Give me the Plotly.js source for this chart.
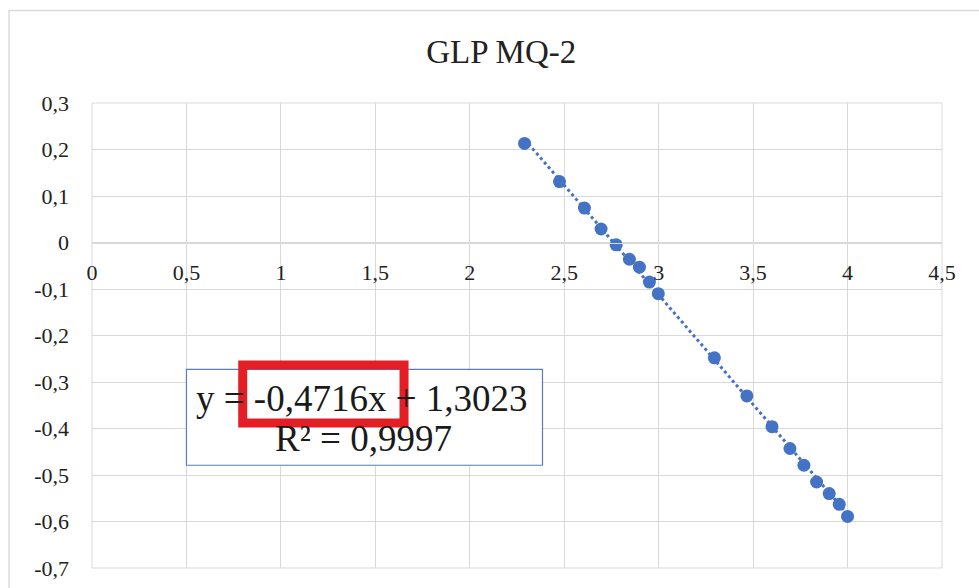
<!DOCTYPE html>
<html>
<head>
<meta charset="utf-8">
<script src="https://cdn.plot.ly/plotly-3.0.1.min.js"></script>
<style>
  html, body { margin: 0; padding: 0; background: #ffffff; }
  #chart { width: 979px; height: 588px; }
</style>
</head>
<body>
<div id="chart"></div>
<script>
// ---- data ----
const xValues = [2.290, 2.475, 2.607, 2.695, 2.775, 2.845, 2.898, 2.951, 2.998,
                 3.295, 3.467, 3.600, 3.695, 3.769, 3.836, 3.903, 3.956, 4.000];
const yValues = [0.213, 0.131, 0.074, 0.029, -0.005, -0.036, -0.053, -0.085, -0.110,
                 -0.248, -0.330, -0.396, -0.443, -0.479, -0.515, -0.540, -0.563, -0.589];
const trendX = [2.290, 4.000];
const trendY = [0.222, -0.584];
const xTickVals = [0, 0.5, 1, 1.5, 2, 2.5, 3, 3.5, 4, 4.5];
const xTickText = ['0', '0,5', '1', '1,5', '2', '2,5', '3', '3,5', '4', '4,5'];
const yTickVals = [0.3, 0.2, 0.1, 0, -0.1, -0.2, -0.3, -0.4, -0.5, -0.6, -0.7];
const yTickText = ['0,3', '0,2', '0,1', '0', '-0,1', '-0,2', '-0,3', '-0,4', '-0,5', '-0,6', '-0,7'];
const chartTitle = 'GLP MQ-2';
const equationText = 'y = -0,4716x + 1,3023';
const r2Text = 'R² = 0,9997';

const serif = 'Liberation Serif';
const blue = '#4472C4';
const grid = '#d9d9d9';

const traces = [
  {
    x: trendX, y: trendY, type: 'scatter', mode: 'lines',
    line: { color: blue, width: 3, dash: 'dot' },
    hoverinfo: 'skip', showlegend: false
  },
  {
    x: xValues, y: yValues, type: 'scatter', mode: 'markers',
    marker: { color: blue, size: 13 },
    showlegend: false
  }
];

const layout = {
  width: 979, height: 588,
  paper_bgcolor: '#ffffff', plot_bgcolor: '#ffffff',
  font: { family: serif },
  margin: { l: 92, r: 37, t: 103, b: 20, pad: 0 },
  showlegend: false,
  title: {
    text: chartTitle,
    font: { family: serif, size: 33, color: '#222222' },
    xref: 'container', yref: 'container',
    x: 0.512, xanchor: 'center', y: 0.912, yanchor: 'middle'
  },
  xaxis: {
    range: [0, 4.5], tickvals: xTickVals, ticktext: xTickText,
    showgrid: true, gridcolor: grid, gridwidth: 1,
    zeroline: false, showline: true, linecolor: grid, linewidth: 1,
    anchor: 'free', position: 0.7,
    ticks: '', ticklabelstandoff: 10,
    tickfont: { family: serif, size: 22, color: '#222222' }
  },
  yaxis: {
    range: [-0.7, 0.3], tickvals: yTickVals, ticktext: yTickText,
    showgrid: true, gridcolor: grid, gridwidth: 1,
    zeroline: false, showline: false,
    ticks: '', ticklabelstandoff: 22,
    tickfont: { family: serif, size: 22, color: '#222222' }
  },
  shapes: [
    // chart outer border
    { type: 'rect', xref: 'paper', yref: 'paper', x0: -0.0976, x1: 1.2, y0: -0.2, y1: 1.199,
      line: { color: '#d9d9d9', width: 1.5 }, fillcolor: 'rgba(0,0,0,0)', layer: 'below' },
    // plot area frame
    { type: 'rect', xref: 'paper', yref: 'paper', x0: 0, x1: 1, y0: 0, y1: 1,
      line: { color: grid, width: 1 }, fillcolor: 'rgba(0,0,0,0)', layer: 'below' },
    // equation box
    { type: 'rect', xref: 'x', yref: 'y', x0: 0.50, x1: 2.385, y0: -0.479, y1: -0.273,
      line: { color: '#5a7db8', width: 1.2 }, fillcolor: '#ffffff', layer: 'above' },
    // red highlight
    { type: 'rect', xref: 'x', yref: 'y', x0: 0.798, x1: 1.652, y0: -0.388, y1: -0.2635,
      line: { color: '#e31e24', width: 9 }, fillcolor: 'rgba(0,0,0,0)', layer: 'above' }
  ],
  annotations: [
    { x: 1.430, y: -0.335, xref: 'x', yref: 'y', text: equationText, showarrow: false,
      xanchor: 'center', yanchor: 'middle',
      font: { family: serif, size: 37, color: '#1a1a1a' } },
    { x: 1.436, y: -0.421, xref: 'x', yref: 'y', text: r2Text, showarrow: false,
      xanchor: 'center', yanchor: 'middle',
      font: { family: serif, size: 37, color: '#1a1a1a' } }
  ]
};

Plotly.newPlot('chart', traces, layout, { displayModeBar: false, staticPlot: true });
</script>
</body>
</html>
